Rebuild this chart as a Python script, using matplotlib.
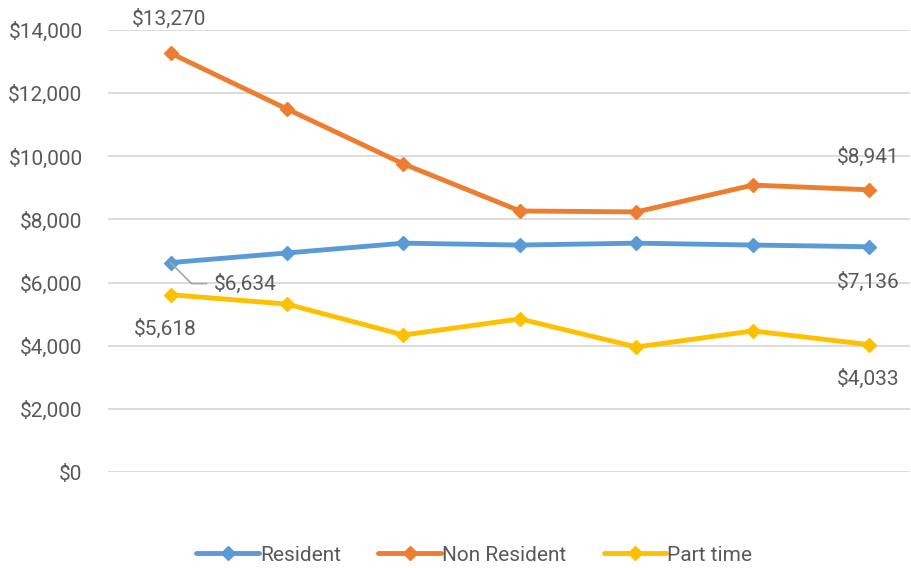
import matplotlib
matplotlib.use("Agg")
import matplotlib.pyplot as plt
from matplotlib.ticker import FuncFormatter

# data (7 periods, no x labels shown)
periods = list(range(7))
resident = [6634, 6940, 7250, 7190, 7250, 7190, 7136]
non_resident = [13270, 11500, 9760, 8270, 8240, 9090, 8941]
part_time = [5618, 5320, 4340, 4850, 3960, 4470, 4033]

series_names = ["Resident", "Non Resident", "Part time"]
series_colors = ["#5B9BD5", "#ED7D31", "#FFC000"]

plt.rcParams["font.family"] = ["Roboto", "DejaVu Sans"]
text_color = "#595959"
fs = 15

fig = plt.figure(figsize=(9.12, 5.68), dpi=100)
ax = fig.add_axes([0.118, 0.169, 0.880, 0.778])

for vals, name, col in zip([resident, non_resident, part_time], series_names, series_colors):
    ax.plot(periods, vals, color=col, lw=3.5, marker="D", markersize=7.5,
            label=name, solid_joinstyle="round", solid_capstyle="round", zorder=3)

ax.set_ylim(0, 14000)
ax.set_xlim(-0.54, 6.35)
ax.set_yticks(range(0, 14001, 2000))
ax.yaxis.set_major_formatter(FuncFormatter(lambda v, p: "${:,.0f}".format(v)))
ax.tick_params(axis="y", length=0, pad=18, labelsize=fs, labelcolor=text_color)
ax.set_xticks([])
ax.grid(axis="y", color="#D9D9D9", lw=1.3)
ax.set_axisbelow(True)
for s in ax.spines.values():
    s.set_visible(False)

lbl = dict(textcoords="offset pixels", ha="center", va="center",
           fontsize=fs, color=text_color, annotation_clip=False)

ax.annotate("${:,}".format(non_resident[0]), (0, non_resident[0]), xytext=(-1, 34), **lbl)
ax.annotate("${:,}".format(non_resident[-1]), (6, non_resident[-1]), xytext=(-1, 33), **lbl)
ax.annotate("${:,}".format(resident[-1]), (6, resident[-1]), xytext=(-1, -35), **lbl)
ax.annotate("${:,}".format(part_time[0]), (0, part_time[0]), xytext=(-5, -34), **lbl)
ax.annotate("${:,}".format(part_time[-1]), (6, part_time[-1]), xytext=(-1, -34), **lbl)

# leader line label for first resident point
ax.annotate("${:,}".format(resident[0]), (0, resident[0]), xytext=(43, -21),
            textcoords="offset pixels", ha="left", va="center", fontsize=fs,
            color=text_color, annotation_clip=False,
            arrowprops=dict(arrowstyle="-", color="#A6A6A6", lw=1.2,
                            shrinkA=3, shrinkB=0, relpos=(0, 0.5),
                            connectionstyle="angle,angleA=0,angleB=-45"))

fig.legend(loc="lower center", bbox_to_anchor=(0.52, -0.027), ncol=3, frameon=False,
           fontsize=fs, labelcolor=text_color, handlelength=3.0, handletextpad=0.05,
           columnspacing=1.8)

fig.savefig("out.png", dpi=100)
